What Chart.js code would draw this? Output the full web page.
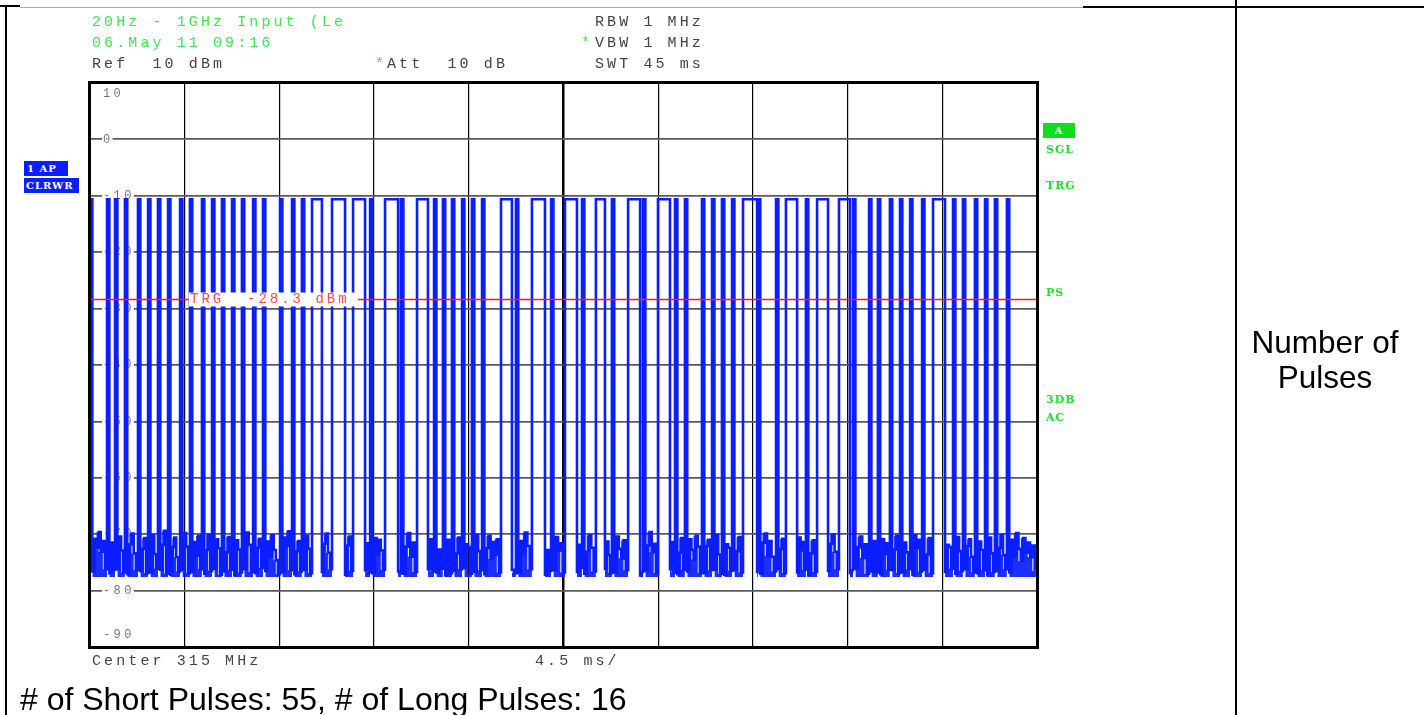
<!DOCTYPE html>
<html>
<head>
<meta charset="utf-8">
<script src="https://cdn.jsdelivr.net/npm/chart.js@4.4.1/dist/chart.umd.min.js"></script>
<style>
  html, body { margin: 0; padding: 0; background: #fff; }
  #wrap { position: relative; width: 1424px; height: 715px; overflow: hidden; }
  #trace { position: absolute; left: 0; top: 0; }
  .mono { position: absolute; font-family: "Liberation Mono", monospace; font-size: 15px; letter-spacing: 3.1px;
          white-space: pre; line-height: 14px; color: #444; }
  .grn { color: #3ee650; }
  .side { position: absolute; font-family: "DejaVu Serif", serif; font-weight: bold; font-size: 11px;
          letter-spacing: 1px; color: #22dd33; line-height: 12px; }
  .box { position: absolute; font-family: "DejaVu Serif", serif; font-weight: bold; font-size: 10px;
         letter-spacing: 1px; color: #fff; line-height: 15px; overflow: hidden; white-space: pre; }
  .ln { position: absolute; background: #000; }
  .sans { position: absolute; font-family: "Liberation Sans", Arial, sans-serif; color: #000; white-space: pre; }
</style>
</head>
<body>
<div id="wrap">
  <canvas id="trace" width="1424" height="715"></canvas>

  <!-- table lines -->
  <div class="ln" style="left:0;top:5px;width:20px;height:2px"></div>
  <div class="ln" style="left:5px;top:5px;width:2px;height:710px"></div>
  <div class="ln" style="left:20px;top:7px;width:1063px;height:1px;background:#aaa"></div>
  <div class="ln" style="left:1083px;top:6px;width:341px;height:2px"></div>
  <div class="ln" style="left:1235px;top:0;width:2px;height:715px"></div>

  <!-- analyzer header -->
  <div class="mono grn" style="left:92px;top:16px">20Hz - 1GHz Input (Le</div>
  <div class="mono grn" style="left:92px;top:37px">06.May 11 09:16</div>
  <div class="mono" style="left:92px;top:58px">Ref  10 dBm</div>
  <div class="mono grn" style="left:375px;top:58px">*</div>
  <div class="mono" style="left:387px;top:58px">Att  10 dB</div>
  <div class="mono" style="left:595px;top:16px">RBW 1 MHz</div>
  <div class="mono grn" style="left:581px;top:37px">*</div>
  <div class="mono" style="left:595px;top:37px">VBW 1 MHz</div>
  <div class="mono" style="left:595px;top:58px">SWT 45 ms</div>

  <!-- left trace tags -->
  <div class="box" style="left:24px;top:161px;width:44px;height:15px;background:#0a1eff;padding-left:3px;box-sizing:border-box">1 AP</div>
  <div class="box" style="left:24px;top:178px;width:55px;height:15px;background:#0a1eff;padding-left:2px;box-sizing:border-box">CLRWR</div>

  <!-- right status column -->
  <div class="box" style="left:1043px;top:123px;width:32px;height:15px;background:#10dd20;text-align:center">A</div>
  <div class="side" style="left:1046px;top:144px">SGL</div>
  <div class="side" style="left:1046px;top:180px">TRG</div>
  <div class="side" style="left:1046px;top:287px">PS</div>
  <div class="side" style="left:1046px;top:394px">3DB</div>
  <div class="side" style="left:1046px;top:412px">AC</div>

  <!-- footer of analyzer -->
  <div class="mono" style="left:92px;top:655px">Center 315 MHz</div>
  <div class="mono" style="left:535px;top:655px">4.5 ms/</div>

  <!-- table text -->
  <div class="sans" style="left:1237px;width:176px;top:325px;font-size:31.5px;line-height:35px;text-align:center">Number of
Pulses</div>
  <div class="sans" style="left:20px;top:683px;font-size:32px;line-height:32px"># of Short Pulses: 55, # of Long Pulses: 16</div>
</div>

<script>
// sweep: 45 ms, 4.5 ms/div, ref 10 dBm, 10 dB/div
const sweepMs = 45;
const xGrid = [0, 4.5, 9, 13.5, 18, 22.5, 27, 31.5, 36, 40.5, 45];
const yGrid = [-90, -80, -70, -60, -50, -40, -30, -20, -10, 0, 10];
const yTickValues = [10, 0, -10, -20, -30, -40, -50, -60, -70, -80, -90];
const yTickLabels = ["10", "0", "-10", "-20", "-30", "-40", "-50", "-60", "-70", "-80", "-90"];
const triggerLevel = -28.3;
const pulseTop = -10.6;
const floorLevel = -77.6;

// pulse edges in ms
const pulseStart = [0.00, 0.81, 1.19, 1.66, 2.28, 2.76, 3.23, 3.71, 4.28, 4.75,
  5.32, 5.80, 6.27, 6.75, 7.22, 7.75, 8.22, 9.03, 9.60, 10.07,
  10.55, 11.50, 12.50, 13.31, 14.02, 14.78, 15.54, 16.35, 16.77, 17.20,
  17.68, 18.15, 18.63, 19.53, 20.24, 21.00, 21.91, 22.57, 23.38, 24.04,
  24.80, 25.57, 26.28, 26.99, 27.80, 28.27, 29.08, 29.56, 30.03, 30.51,
  31.03, 31.74, 32.60, 33.07, 34.02, 34.55, 35.59, 36.26, 37.02, 37.44,
  38.01, 38.49, 38.97, 39.54, 40.06, 41.01, 41.48, 42.05, 42.53, 43.00, 43.57];
const pulseEnd = [0.11, 0.92, 1.30, 1.77, 2.39, 2.87, 3.34, 3.82, 4.39, 4.86,
  5.43, 5.91, 6.38, 6.86, 7.33, 7.86, 8.33, 9.14, 9.71, 10.18,
  11.02, 12.12, 13.07, 13.42, 14.64, 14.89, 16.06, 16.46, 16.88, 17.31,
  17.79, 18.26, 18.74, 20.05, 20.35, 21.62, 22.02, 23.14, 23.49, 24.47,
  24.91, 26.14, 26.39, 27.56, 27.91, 28.38, 29.19, 29.67, 30.14, 30.62,
  31.70, 31.85, 32.71, 33.60, 34.13, 35.07, 36.11, 36.37, 37.13, 37.55,
  38.12, 38.60, 39.08, 39.65, 40.63, 41.12, 41.59, 42.16, 42.64, 43.11, 43.68];

// noise floor samples in the gap after each pulse (dBm)
const lowLevels = [
  [-76.6, -70.8, -72.4, -69.6, -73.1, -71.2, -76.2], [-76.9, -71.5, -76.3], [-76.2, -70.4, -72.9, -76.8],
  [-77.1, -71.8, -69.9, -73.4, -76.4], [-76.5, -72.6, -70.7, -76.9], [-76.8, -70.2, -73.5, -76.1],
  [-76.3, -71.9, -69.4, -77.0], [-77.2, -72.3, -70.6, -74.1, -76.6], [-76.4, -69.8, -72.2, -76.9],
  [-76.7, -71.4, -73.8, -70.3, -76.2], [-77.0, -72.8, -70.1, -76.5], [-76.1, -70.9, -72.5, -77.2],
  [-76.6, -73.2, -70.5, -76.3], [-77.3, -71.1, -72.7, -76.8], [-76.2, -69.7, -71.9, -76.7],
  [-76.9, -72.4, -70.8, -76.0], [-76.5, -71.3, -73.9, -70.2, -72.8, -74.6, -77.1], [-76.8, -70.6, -72.1, -69.5, -76.4],
  [-77.1, -73.0, -71.2, -76.6], [-76.3, -70.3, -72.6, -76.9], [-76.7, -71.7, -69.9, -73.3, -76.2],
  [-77.2, -72.0, -70.4, -76.5], [-76.4, -71.6, -76.8], [-76.9, -70.7, -73.6, -71.0, -72.9, -76.3],
  [-76.6, -76.9], [-77.0, -72.2, -69.8, -74.0, -71.5, -76.7], [-76.2, -70.9, -76.6],
  [-76.8, -72.7, -76.1], [-77.3, -71.0, -76.9], [-76.5, -73.4, -70.6, -76.2],
  [-76.0, -71.8, -72.3, -77.0], [-76.7, -70.1, -73.0, -76.4], [-77.1, -72.5, -70.3, -74.4, -71.4, -73.7, -70.9, -76.8],
  [-76.3, -76.9], [-76.9, -71.2, -73.5, -69.7, -72.1, -76.2], [-77.2, -72.8, -76.5],
  [-76.4, -70.5, -72.9, -71.6, -76.8], [-76.7, -71.9, -76.0], [-77.0, -73.1, -70.2, -72.4, -76.6],
  [-76.1, -71.3, -73.7, -76.9], [-76.8, -70.4, -72.6, -74.3, -71.1, -76.4], [-77.3, -76.7],
  [-76.5, -72.0, -69.6, -73.2, -71.7, -76.9], [-76.2, -71.4, -76.8], [-77.1, -73.3, -70.7, -76.3],
  [-76.6, -70.9, -72.8, -74.5, -70.3, -72.2, -76.9], [-76.9, -72.1, -71.0, -76.4], [-76.3, -70.2, -73.6, -77.0],
  [-77.2, -71.8, -72.4, -76.5], [-76.4, -73.0, -70.5, -76.8], [-76.7, -76.1],
  [-77.0, -71.5, -69.9, -73.8, -71.2, -74.0, -76.6], [-76.2, -72.6, -70.8, -76.9], [-76.8, -70.6, -72.9, -71.4, -76.3],
  [-77.3, -73.4, -71.1, -76.7], [-76.5, -71.7, -70.0, -73.1, -76.2], [-76.9, -76.4],
  [-76.1, -72.3, -70.4, -74.2, -71.8, -77.0], [-76.6, -71.2, -76.8], [-77.1, -70.9, -73.5, -71.6, -76.3],
  [-76.4, -72.7, -70.3, -76.9], [-76.8, -71.5, -73.2, -76.2], [-77.2, -70.2, -72.5, -71.0, -76.6],
  [-76.3, -73.6, -70.7, -76.9], [-76.7, -71.9, -72.3, -76.1], [-77.0, -70.5, -73.0, -76.5],
  [-76.2, -72.1, -70.9, -74.0, -76.8], [-76.9, -71.3, -72.8, -76.4], [-77.3, -70.6, -73.4, -76.7],
  [-76.5, -72.4, -70.1, -73.7, -76.2],
  [-76.8, -71.0, -73.9, -69.8, -72.6, -74.8, -70.7, -73.3, -71.5, -74.1, -72.0, -76.5]
];

// build the stepped trace and the noise band from the pulse table
const trace = [];
const band = [];
for (let i = 0; i < pulseStart.length; i++) {
  const s = pulseStart[i], e = pulseEnd[i];
  const next = i + 1 < pulseStart.length ? pulseStart[i + 1] : sweepMs;
  trace.push({ x: s, y: pulseTop });
  trace.push({ x: e, y: pulseTop });
  const lv = lowLevels[i];
  for (let k = 0; k < lv.length; k++) {
    const x = e + (next - e) * k / lv.length;
    trace.push({ x, y: lv[k] });
    band.push({ x, y: lv[k] });
  }
  band.push({ x: next, y: lv[lv.length - 1] });
  band.push({ x: next, y: null });
}

const overlay = {
  id: "overlay",
  beforeDatasetsDraw(chart) {
    const { ctx, scales: { y }, chartArea: a } = chart;
    ctx.save();
    ctx.font = "12px 'Liberation Mono', monospace";
    ctx.letterSpacing = "3.4px";
    ctx.textBaseline = "middle";
    yTickValues.forEach((v, i) => {
      let py = y.getPixelForValue(v);
      if (v === 10) py += 11;
      if (v === -90) py -= 12;
      const w = ctx.measureText(yTickLabels[i]).width;
      ctx.fillStyle = "#fff";
      ctx.fillRect(a.left + 12, py - 5, w, 10);
      ctx.fillStyle = "#777";
      ctx.fillText(yTickLabels[i], a.left + 13, py);
    });
    ctx.restore();
  },
  afterDatasetsDraw(chart) {
    const { ctx, scales: { y }, chartArea: a } = chart;
    const ty = Math.round(y.getPixelForValue(triggerLevel)) + 0.5;
    ctx.save();
    ctx.strokeStyle = "#ff1a1a";
    ctx.lineWidth = 1.5;
    ctx.beginPath();
    ctx.moveTo(a.left, ty); ctx.lineTo(a.left + 99, ty);
    ctx.moveTo(a.left + 268, ty); ctx.lineTo(a.right, ty);
    ctx.stroke();
    ctx.fillStyle = "#fff";
    ctx.fillRect(a.left + 99, ty - 7, 169, 14);
    ctx.font = "14px 'Liberation Mono', monospace";
    ctx.letterSpacing = "3px";
    ctx.textBaseline = "middle";
    ctx.fillStyle = "#ff4d4d";
    ctx.fillText("TRG  -28.3 dBm", a.left + 100, ty);
    // frame
    ctx.strokeStyle = "#000";
    ctx.lineWidth = 3;
    ctx.strokeRect(a.left - 0.5, a.top - 0.5, a.right - a.left + 1, a.bottom - a.top + 1);
    ctx.restore();
  }
};

new Chart(document.getElementById("trace"), {
  type: "line",
  data: {
    datasets: [{
      data: trace,
      borderColor: "#0a1eff",
      borderWidth: 2.6,
      pointRadius: 0,
      stepped: "before",
      fill: false
    }, {
      data: band,
      borderWidth: 0,
      borderColor: "rgba(0,0,0,0)",
      backgroundColor: "rgba(10,30,255,0.92)",
      pointRadius: 0,
      stepped: "after",
      spanGaps: false,
      fill: { value: floorLevel }
    }]
  },
  options: {
    responsive: false,
    animation: false,
    events: [],
    layout: { padding: { left: 90, right: 387, top: 83, bottom: 68 } },
    plugins: { legend: { display: false }, tooltip: { enabled: false } },
    scales: {
      x: {
        type: "linear", min: 0, max: sweepMs,
        afterBuildTicks: axis => { axis.ticks = xGrid.map(v => ({ value: v })); },
        ticks: { display: false },
        border: { display: false },
        grid: {
          drawTicks: false,
          color: c => (c.tick.value === 0 || c.tick.value === sweepMs) ? "rgba(0,0,0,0)" : "#000",
          lineWidth: c => c.tick.value === 22.5 ? 2.5 : 1.2
        }
      },
      y: {
        type: "linear", min: -90, max: 10,
        afterBuildTicks: axis => { axis.ticks = yGrid.map(v => ({ value: v })); },
        ticks: { display: false },
        border: { display: false },
        grid: {
          drawTicks: false,
          color: c => (c.tick.value === -90 || c.tick.value === 10) ? "rgba(0,0,0,0)" : "#5a5a5a",
          lineWidth: 1.8
        }
      }
    }
  },
  plugins: [overlay]
});
</script>
</body>
</html>
